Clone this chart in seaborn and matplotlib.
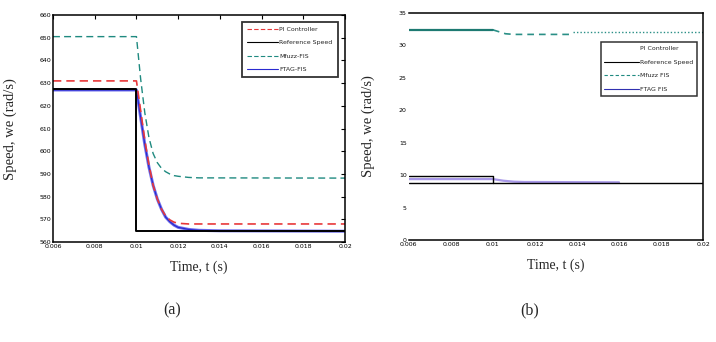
import matplotlib
matplotlib.use("Agg")
import matplotlib.pyplot as plt
import seaborn as sns
import pandas as pd
from matplotlib.lines import Line2D

sns.set_theme(style="white")
plt.rcParams['font.family'] = ['DejaVu Sans']

# ---------------- data (a) ----------------
t_ref_a = [0.006, 0.010, 0.010, 0.020]
v_ref_a = [627.5, 627.5, 565.0, 565.0]

t_pi_a = [0.006, 0.0100, 0.0102, 0.0104, 0.0106, 0.0108, 0.0110, 0.0112, 0.0114,
          0.0116, 0.0118, 0.0120, 0.0125, 0.020]
v_pi_a = [631.0, 631.0, 618.0, 605.0, 594.0, 585.0, 579.0, 574.5, 571.5,
          569.8, 568.8, 568.3, 568.0, 568.0]

t_ftag_a = [0.006, 0.0100, 0.0102, 0.0104, 0.0106, 0.0108, 0.0110, 0.0112, 0.0114,
            0.0116, 0.0118, 0.0120, 0.0125, 0.0130, 0.0140, 0.020]
v_ftag_a = [627.0, 627.0, 615.0, 603.0, 593.0, 585.0, 579.0, 574.5, 571.0,
            569.0, 567.5, 566.5, 565.6, 565.2, 565.0, 564.8]

t_mf_a = [0.006, 0.0100, 0.0102, 0.0104, 0.0106, 0.0108, 0.0110, 0.0112, 0.0114,
          0.0116, 0.0118, 0.0120, 0.0125, 0.0130, 0.020]
v_mf_a = [650.5, 650.5, 632.0, 617.0, 606.0, 599.0, 595.0, 592.5, 591.0,
          590.0, 589.3, 589.0, 588.5, 588.3, 588.2]

# ---------------- data (b) ----------------
t_ref_b = [0.006, 0.010, 0.010, 0.020]
v_ref_b = [9.9, 9.9, 8.8, 8.8]
t_ref_floor_b = [0.006, 0.010]
v_ref_floor_b = [8.8, 8.8]

t_ftag_b = [0.006, 0.0100, 0.0105, 0.0110, 0.0115, 0.0120, 0.0160]
v_ftag_b = [9.4, 9.4, 9.15, 9.0, 8.95, 8.95, 8.9]

t_mf_b_solid = [0.006, 0.0100]
v_mf_b_solid = [32.4, 32.4]
t_mf_b_dash = [0.0100, 0.0103, 0.0106, 0.0110, 0.0138]
v_mf_b_dash = [32.4, 32.1, 31.8, 31.7, 31.7]
t_mf_b_dot = [0.0138, 0.020]
v_mf_b_dot = [32.1, 32.1]

xticks = [0.006, 0.008, 0.01, 0.012, 0.014, 0.016, 0.018, 0.02]
xtick_labels = ["0.006", "0.008", "0.01", "0.012", "0.014", "0.016", "0.018", "0.02"]
yticks_a = [560, 570, 580, 590, 600, 610, 620, 630, 640, 650, 660]
yticks_b = [0, 5, 10, 15, 20, 25, 30, 35]

labels_a = ["PI Controller", "Reference Speed", "Mfuzz-FIS", "FTAG-FIS"]
labels_b = ["PI Controller", "Reference Speed", "Mfuzz FIS", "FTAG FIS"]

RED = "#e8383a"
TEAL = "#1f8a80"
BLUE = "#2a2ad0"

fig = plt.figure(figsize=(7.16, 3.42), dpi=100)
ax_a = fig.add_axes([0.074, 0.292, 0.408, 0.664])
ax_b = fig.add_axes([0.571, 0.298, 0.411, 0.664])

def line(ax, t, v, **kw):
    sns.lineplot(x=t, y=v, ax=ax, sort=False, estimator=None, **kw)

# (a)
line(ax_a, t_mf_a, v_mf_a, color=TEAL, lw=1.0, linestyle=(0, (5, 3)))
line(ax_a, t_ftag_a, v_ftag_a, color="#5a5ae8", lw=2.2, alpha=0.85)
line(ax_a, t_ftag_a, v_ftag_a, color=BLUE, lw=0.9)
line(ax_a, t_pi_a, v_pi_a, color=RED, lw=1.2, linestyle=(0, (5, 3)))
line(ax_a, t_ref_a, v_ref_a, color="black", lw=1.4)

ax_a.set_xlim(0.006, 0.02)
ax_a.set_ylim(560, 660)
ax_a.set_xticks(xticks)
ax_a.set_xticklabels(xtick_labels)
ax_a.set_yticks(yticks_a)

h_a = [Line2D([], [], color=RED, lw=0.8, linestyle=(0, (4, 2))),
       Line2D([], [], color="black", lw=0.8),
       Line2D([], [], color=TEAL, lw=0.8, linestyle=(0, (4, 2))),
       Line2D([], [], color=BLUE, lw=0.8)]
leg_a = ax_a.legend(h_a, labels_a, loc="upper right", fontsize=4.5, frameon=True,
                    fancybox=False, edgecolor="black", handlelength=5.0,
                    borderpad=0.8, labelspacing=1.3, handletextpad=0.2,
                    bbox_to_anchor=(0.985, 0.985))
leg_a.get_frame().set_linewidth(1.3)

# (b)
line(ax_b, t_mf_b_solid, v_mf_b_solid, color="#1d7a72", lw=1.6)
line(ax_b, t_mf_b_dash, v_mf_b_dash, color="#2a8f86", lw=1.2, linestyle=(0, (4, 3)))
line(ax_b, t_mf_b_dot, v_mf_b_dot, color="#2a8f86", lw=1.0, linestyle=(0, (1, 1.5)))
line(ax_b, t_ftag_b, v_ftag_b, color="#a898e8", lw=1.6)
line(ax_b, t_ref_b, v_ref_b, color="black", lw=1.0)
line(ax_b, t_ref_floor_b, v_ref_floor_b, color="black", lw=1.0)

ax_b.set_xlim(0.006, 0.02)
ax_b.set_ylim(0, 35)
ax_b.set_xticks(xticks)
ax_b.set_xticklabels(xtick_labels)
ax_b.set_yticks(yticks_b)
ax_b.spines["left"].set_visible(False)

h_b = [Line2D([], [], color="white", lw=0.8),
       Line2D([], [], color="black", lw=0.8),
       Line2D([], [], color=TEAL, lw=0.8, linestyle=(0, (3, 2))),
       Line2D([], [], color="#3030b0", lw=0.8)]
leg_b = ax_b.legend(h_b, labels_b, loc="upper right", fontsize=4.5, frameon=True,
                    fancybox=False, edgecolor="black", handlelength=5.5,
                    borderpad=0.6, labelspacing=1.3, handletextpad=0.2,
                    bbox_to_anchor=(0.99, 0.885))
leg_b.get_frame().set_linewidth(1.1)

for ax in (ax_a, ax_b):
    ax.tick_params(axis="both", direction="in", length=3, width=0.8, labelsize=4.5,
                   top=True, right=True, pad=1.5, colors="black")
    for s in ax.spines.values():
        s.set_color("black")
        s.set_linewidth(1.1)
    ax.set_xlabel("Time, t (s)", family="Liberation Serif", fontsize=10, labelpad=8)

ax_a.set_ylabel("Speed, we (rad/s)", family="Liberation Serif", fontsize=10.5, labelpad=16)
ax_b.set_ylabel("Speed, we (rad/s)", family="Liberation Serif", fontsize=10.5, labelpad=17)

ax_b.tick_params(axis="both", length=0, right=False, top=False)

fig.text(172 / 716, 1 - 310 / 342, "(a)", family="Liberation Serif", fontsize=11.5,
         ha="center", va="center")
fig.text(530 / 716, 1 - 310 / 342, "(b)", family="Liberation Serif", fontsize=11.5,
         ha="center", va="center")

fig.savefig("out.png", dpi=100)
